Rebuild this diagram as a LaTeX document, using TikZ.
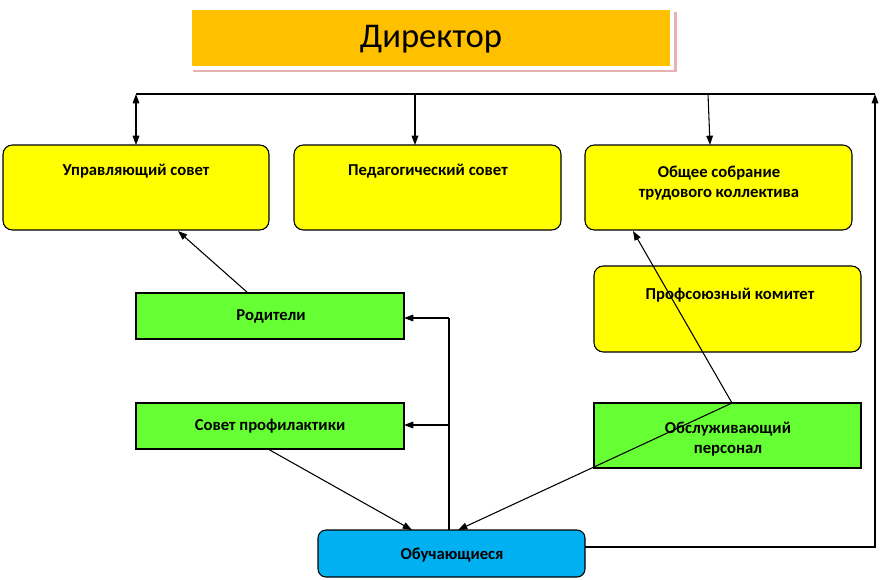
\documentclass[tikz,border=0pt]{standalone}
\usepackage{fontspec}
\setmainfont{Carlito}
\usetikzlibrary{arrows.meta}
\definecolor{orng}{RGB}{255,192,0}
\definecolor{yel}{RGB}{255,255,0}
\definecolor{grn}{RGB}{102,255,51}
\definecolor{cyn}{RGB}{0,176,240}
\begin{document}
\begin{tikzpicture}[x=0.75pt,y=-0.75pt,
 yb/.style={draw=black,fill=yel,rounded corners=7pt,line width=0.8pt},
 gb/.style={draw=black,fill=grn,line width=0.8pt},
 lbl/.style={font=\bfseries\fontsize{12.5}{15}\selectfont,align=center},
 ar/.style={-{Triangle[length=7pt,width=5pt]},line width=0.8pt},
 ln/.style={line width=0.8pt}]
\useasboundingbox (0,0) rectangle (888,579);
% director
\fill[black!30!red!30!white] (193,12) rectangle (677,72);
\draw[white,line width=3pt,fill=orng] (190,8) rectangle (672,68);
\node[font=\fontsize{26}{30}\selectfont] (dir) at (431,39) {Директор};
% boxes
\draw[yb] (3,145) rectangle (269,230);
\node[lbl] (us) at (136,171) {Управляющий совет};
\draw[yb] (294,145) rectangle (561,230);
\node[lbl] (ps) at (428,171) {Педагогический совет};
\draw[yb] (585,145) rectangle (852,230);
\node[lbl] (os) at (719,183) {Общее собрание\\трудового коллектива};
\draw[yb] (594,266) rectangle (861,352);
\node[lbl] (pk) at (730,295) {Профсоюзный комитет};
\draw[gb] (136,293) rectangle (404,339);
\node[lbl] (rod) at (271,316) {Родители};
\draw[gb] (136,403) rectangle (404,449);
\node[lbl] (sp) at (270,426) {Совет профилактики};
\draw[gb] (594,403) rectangle (861,468);
\node[lbl] (op) at (728,439) {Обслуживающий\\персонал};
\draw[draw=black,fill=cyn,rounded corners=6pt,line width=0.8pt] (318,530) rectangle (585,577);
\node[lbl] (ob) at (452,555) {Обучающиеся};
% coordinates
\coordinate (tl) at (136,94); \coordinate (tr) at (875,94);
\coordinate (br) at (875,547);
\coordinate (op1) at (732,403);
\coordinate (v0) at (449,530); \coordinate (v1) at (449,318); \coordinate (v2) at (449,425);
% lines
\draw[ln] (tl) -- (tr);
\draw[{Triangle[length=7pt,width=5pt]}-{Triangle[length=7pt,width=5pt]},line width=0.8pt] (tl) -- (136,145);
\draw[ar] (415,94) -- (415,145);
\draw[ar] (708,94) -- (710,145);
\draw[ar] (585,547) -- (br) -- (tr);
\draw[ar] (248,293) -- (178,231);
\draw[ln] (v0) -- (v1);
\draw[ar] (v1) -- (404,318);
\draw[ar] (v2) -- (404,425);
\draw[ar] (268,449) -- (412,530);
\draw[ar] (op1) -- (458,530);
\draw[ar] (op1) -- (633,231);
\end{tikzpicture}
\end{document}
